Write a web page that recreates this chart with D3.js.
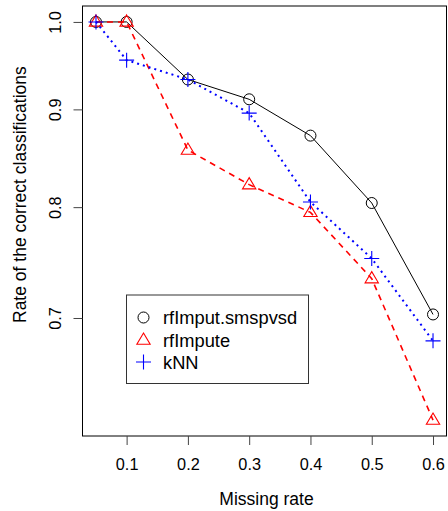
<!DOCTYPE html>
<html>
<head>
<meta charset="utf-8">
<script src="https://cdn.jsdelivr.net/npm/d3@7"></script>
<style>
  body { margin: 0; background: #fff; }
  text { font-family: "Liberation Sans", Arial, Helvetica, sans-serif; fill: #000; }
</style>
</head>
<body>
<div id="chart"></div>
<script>
// missing rates on x
var rates = [0.05, 0.1, 0.2, 0.3, 0.4, 0.5, 0.6]
var xTicks = [0.1, 0.2, 0.3, 0.4, 0.5, 0.6]
var yTicks = [0.7, 0.8, 0.9, 1.0]

// rate of correct classifications per method
var smspvsd = [1.0, 1.0, 0.933, 0.911, 0.872, 0.804, 0.703]
var rfimpute = [1.0, 1.0, 0.857, 0.822, 0.795, 0.734, 0.619]
var knn = [1.0, 0.955, 0.933, 0.896, 0.805, 0.752, 0.681]

var seriesNames = ["rfImput.smspvsd", "rfImpute", "kNN"]

var W = 448, H = 511
var box = {left: 82.5, right: 446.5, top: 6, bottom: 436}

var svg = d3.select("#chart").append("svg")
  .attr("width", W)
  .attr("height", H)

// R style 4% padding
var xPad = (d3.max(rates) - d3.min(rates)) * 0.04
var x = d3.scaleLinear()
  .domain([d3.min(rates) - xPad, d3.max(rates) + xPad])
  .range([box.left, box.right])

var all = smspvsd.concat(rfimpute, knn)
var lmin = Math.log(d3.min(all)), lmax = Math.log(d3.max(all))
var lpad = (lmax - lmin) * 0.04
var y = d3.scaleLog()
  .domain([Math.exp(lmin - lpad), Math.exp(lmax + lpad)])
  .range([box.bottom, box.top])

// frame
svg.append("rect")
  .attr("x", box.left).attr("y", box.top)
  .attr("width", box.right - box.left).attr("height", box.bottom - box.top)
  .attr("fill", "none").attr("stroke", "#000").attr("stroke-width", 1)

// x axis
var xAxis = d3.axisBottom(x).tickValues(xTicks).tickSize(9).tickFormat(d3.format(".1f"))
var gx = svg.append("g")
  .attr("transform", "translate(0," + box.bottom + ")")
  .call(xAxis)
gx.select(".domain").remove()
gx.selectAll(".tick line").attr("stroke", "#444")
gx.selectAll(".tick text")
  .attr("y", 34).attr("dy", 0)
  .attr("font-size", 16.3)
  .attr("font-family", "Liberation Sans, Arial, sans-serif")
  .attr("fill", "#111")

// y axis
var yAxis = d3.axisLeft(y).tickValues(yTicks).tickSize(9).tickFormat(d3.format(".1f"))
var gy = svg.append("g")
  .attr("transform", "translate(" + box.left + ",0)")
  .call(yAxis)
gy.select(".domain").remove()
gy.selectAll(".tick line").attr("stroke", "#444")
gy.selectAll(".tick text")
  .attr("x", null).attr("dy", 0)
  .attr("text-anchor", "middle")
  .attr("transform", "translate(-21.5,0) rotate(-90)")
  .attr("font-size", 16.3)
  .attr("font-family", "Liberation Sans, Arial, sans-serif")
  .attr("fill", "#111")

// axis titles
svg.append("text")
  .attr("x", (box.left + box.right) / 2 + 2)
  .attr("y", 505)
  .attr("text-anchor", "middle")
  .attr("font-size", 17.5)
  .attr("fill", "#111")
  .text("Missing rate")

svg.append("text")
  .attr("transform", "translate(25.5,323) rotate(-90)")
  .attr("text-anchor", "start")
  .attr("font-size", 17.5)
  .attr("fill", "#111")
  .text("Rate of the correct classifications")

var line = d3.line()
  .x(function(d, i) { return x(rates[i]) })
  .y(function(d) { return y(d) })

// point symbols
function circle(g, px, py) {
  g.append("circle").attr("cx", px).attr("cy", py).attr("r", 5.5)
    .attr("fill", "none").attr("stroke", "#000").attr("stroke-width", 1)
}
function triangle(g, px, py) {
  var s = 7
  g.append("path")
    .attr("d", "M" + px + "," + (py - s) + "L" + (px + s * 0.95) + "," + (py + s * 0.6) + "L" + (px - s * 0.95) + "," + (py + s * 0.6) + "Z")
    .attr("fill", "none").attr("stroke", "#ff0000").attr("stroke-width", 1.1)
}
function plus(g, px, py) {
  var s = 7.5
  g.append("path")
    .attr("d", "M" + (px - s) + "," + py + "H" + (px + s) + "M" + px + "," + (py - s) + "V" + (py + s))
    .attr("fill", "none").attr("stroke", "#0000ff").attr("stroke-width", 1.1)
}

var series = [
  {vals: smspvsd, color: "#000", width: 1, dash: null, sym: circle},
  {vals: rfimpute, color: "#ff0000", width: 1.6, dash: "6,5", sym: triangle},
  {vals: knn, color: "#0000ff", width: 2, dash: "2,4", sym: plus}
]

series.forEach(function(s) {
  svg.append("path")
    .datum(s.vals)
    .attr("d", line)
    .attr("fill", "none")
    .attr("stroke", s.color)
    .attr("stroke-width", s.width)
    .attr("stroke-dasharray", s.dash)
  var g = svg.append("g")
  s.vals.forEach(function(v, i) { s.sym(g, x(rates[i]), y(v)) })
})

// legend
var lg = svg.append("g")
lg.append("rect")
  .attr("x", 126.5).attr("y", 295)
  .attr("width", 182).attr("height", 88.5)
  .attr("fill", "#fff").attr("stroke", "#333").attr("stroke-width", 1)
var rowY = [317.5, 340, 362]
series.forEach(function(s, i) {
  s.sym(lg, 143.5, rowY[i])
  lg.append("text")
    .attr("x", 163).attr("y", rowY[i] + 6.5)
    .attr("font-size", 18.3)
    .attr("fill", "#111")
    .text(seriesNames[i])
})
</script>
</body>
</html>
